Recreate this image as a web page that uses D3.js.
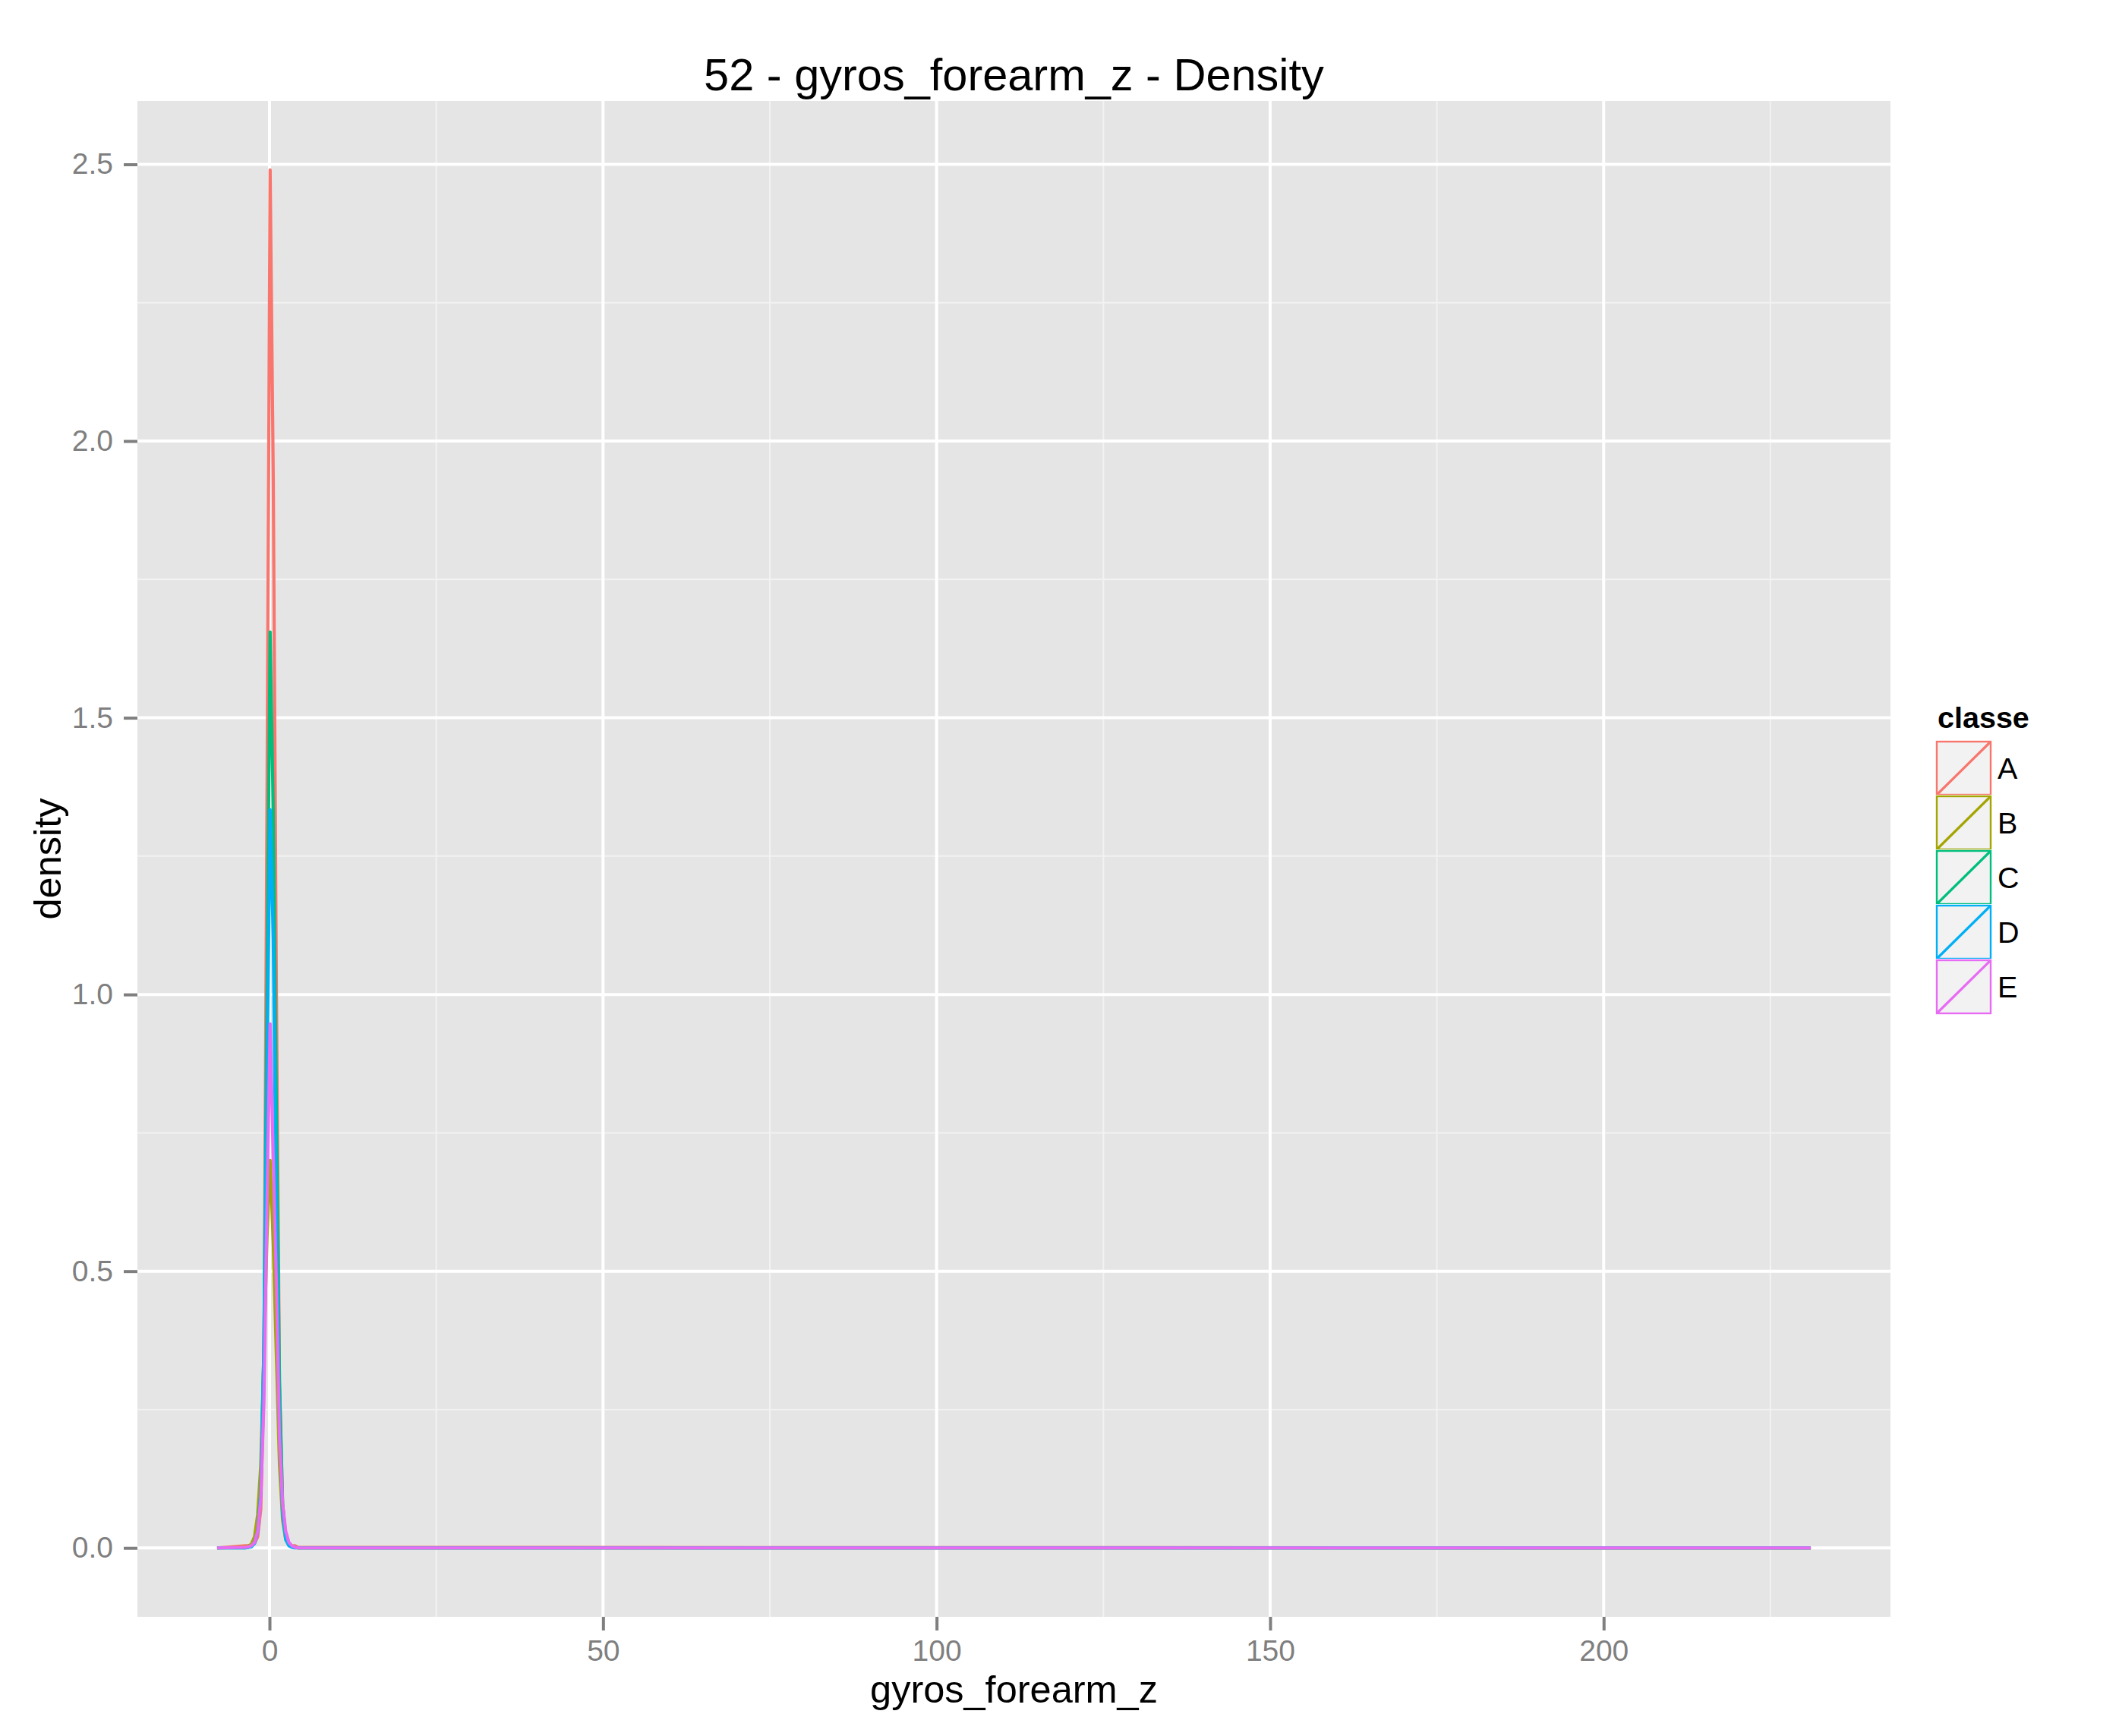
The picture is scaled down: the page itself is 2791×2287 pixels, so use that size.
<!DOCTYPE html>
<html>
<head>
<meta charset="utf-8">
<script src="https://cdn.jsdelivr.net/npm/d3@7"></script>
<style>
  body { margin: 0; background: #fff; }
  text { font-family: Arial, "Liberation Sans", sans-serif; }
</style>
</head>
<body>
<script>
// density estimates per class (grid of x values)
var gridX = [-7.86, -3.65, -3.18, -2.72, -2.25, -1.78, -1.31, -0.85, -0.38, 0.09, 0.56, 1.02, 1.49, 1.96, 2.43, 2.90, 3.36, 3.83, 4.30, 231.05];
var densA = [0, 0.004, 0.004, 0.005, 0.008, 0.02, 0.07, 0.30, 1.35, 2.49, 1.93, 1.02, 0.30, 0.08, 0.02, 0.006, 0.004, 0.004, 0.001, 0];
var densB = [0, 0.001, 0.003, 0.007, 0.02, 0.06, 0.15, 0.35, 0.56, 0.70, 0.55, 0.35, 0.15, 0.05, 0.015, 0.005, 0.002, 0.001, 0, 0];
var densC = [0, 0, 0.001, 0.003, 0.01, 0.03, 0.10, 0.36, 1.00, 1.655, 1.33, 0.80, 0.30, 0.08, 0.02, 0.006, 0.002, 0.001, 0, 0];
var densD = [0, 0, 0.001, 0.002, 0.008, 0.03, 0.10, 0.36, 0.85, 1.334, 1.10, 0.60, 0.22, 0.06, 0.015, 0.004, 0.001, 0, 0, 0];
var densE = [0, 0.001, 0.002, 0.004, 0.01, 0.03, 0.09, 0.26, 0.62, 0.947, 0.70, 0.48, 0.20, 0.08, 0.03, 0.01, 0.004, 0.001, 0, 0];

var classes = ["A", "B", "C", "D", "E"];
var colors = ["#F8766D", "#A3A500", "#00BF7D", "#00B0F6", "#E76BF3"];

var xBreaks = [0, 50, 100, 150, 200];
var xMinor = [25, 75, 125, 175, 225];
var yBreaks = [0, 0.5, 1.0, 1.5, 2.0, 2.5];
var yMinor = [0.25, 0.75, 1.25, 1.75, 2.25];
var yLabels = ["0.0", "0.5", "1.0", "1.5", "2.0", "2.5"];

var W = 2791, H = 2287;
var panel = { left: 181, right: 2490, top: 133, bottom: 2130 };

var series = [densA, densB, densC, densD, densE].map((v, i) => ({
    name: classes[i],
    color: colors[i],
    values: gridX.map((x, j) => ({ x: x, y: v[j] }))
}));

const svg = d3.select('body').append('svg')
    .attr('width', W)
    .attr('height', H);

// ggplot style 5% expansion
var xr = d3.extent(gridX);
var xpad = (xr[1] - xr[0]) * 0.05;
var ymax = d3.max(series, s => d3.max(s.values, d => d.y));
var ypad = ymax * 0.05;

const xScale = d3.scaleLinear()
    .domain([xr[0] - xpad, xr[1] + xpad])
    .range([panel.left, panel.right]);
const yScale = d3.scaleLinear()
    .domain([0 - ypad, ymax + ypad])
    .range([panel.bottom, panel.top]);

// panel background
svg.append('rect')
    .attr('x', panel.left).attr('y', panel.top)
    .attr('width', panel.right - panel.left)
    .attr('height', panel.bottom - panel.top)
    .attr('fill', '#E5E5E5');

// grid lines
var grid = svg.append('g');
grid.selectAll('.xminor').data(xMinor).enter().append('line')
    .attr('x1', d => xScale(d)).attr('x2', d => xScale(d))
    .attr('y1', panel.top).attr('y2', panel.bottom)
    .attr('stroke', '#F2F2F2').attr('stroke-width', 2);
grid.selectAll('.yminor').data(yMinor).enter().append('line')
    .attr('y1', d => yScale(d)).attr('y2', d => yScale(d))
    .attr('x1', panel.left).attr('x2', panel.right)
    .attr('stroke', '#F2F2F2').attr('stroke-width', 2);
grid.selectAll('.xmajor').data(xBreaks).enter().append('line')
    .attr('x1', d => xScale(d)).attr('x2', d => xScale(d))
    .attr('y1', panel.top).attr('y2', panel.bottom)
    .attr('stroke', '#FFFFFF').attr('stroke-width', 4);
grid.selectAll('.ymajor').data(yBreaks).enter().append('line')
    .attr('y1', d => yScale(d)).attr('y2', d => yScale(d))
    .attr('x1', panel.left).attr('x2', panel.right)
    .attr('stroke', '#FFFFFF').attr('stroke-width', 4);

// density lines
const line = d3.line()
    .x(d => xScale(d.x))
    .y(d => yScale(d.y));

svg.append('g').selectAll('path')
    .data(series).enter().append('path')
    .attr('d', d => line(d.values))
    .attr('fill', 'none')
    .attr('stroke', d => d.color)
    .attr('stroke-width', 4.2)
    .attr('stroke-linejoin', 'round');

// axes
const xAxis = d3.axisBottom(xScale)
    .tickValues(xBreaks)
    .tickSize(18)
    .tickPadding(12)
    .tickFormat(d3.format('d'));
const yAxis = d3.axisLeft(yScale)
    .tickValues(yBreaks)
    .tickSize(18)
    .tickPadding(14)
    .tickFormat((d, i) => yLabels[i]);

const xAxisG = svg.append('g')
    .attr('transform', `translate(0,${panel.bottom})`)
    .call(xAxis);
const yAxisG = svg.append('g')
    .attr('transform', `translate(${panel.left},0)`)
    .call(yAxis);

[xAxisG, yAxisG].forEach(g => {
    g.select('.domain').remove();
    g.selectAll('.tick line').attr('stroke', '#7F7F7F').attr('stroke-width', 4);
    g.selectAll('.tick text')
        .attr('fill', '#7F7F7F')
        .attr('font-size', 39)
        .attr('font-family', 'Arial, "Liberation Sans", sans-serif');
});
xAxisG.selectAll('.tick text').attr('dy', '0.71em');

// titles
svg.append('text')
    .attr('x', (panel.left + panel.right) / 2)
    .attr('y', 119)
    .attr('text-anchor', 'middle')
    .attr('font-size', 59.5)
    .text('52 - gyros_forearm_z - Density');

svg.append('text')
    .attr('x', (panel.left + panel.right) / 2)
    .attr('y', 2243)
    .attr('text-anchor', 'middle')
    .attr('font-size', 50.5)
    .text('gyros_forearm_z');

svg.append('text')
    .attr('transform', `translate(80,${(panel.top + panel.bottom) / 2}) rotate(-90)`)
    .attr('text-anchor', 'middle')
    .attr('font-size', 50.5)
    .text('density');

// legend
var key = 72, legX = 2550, legY = 976;
var leg = svg.append('g');
leg.append('text')
    .attr('x', legX + 2)
    .attr('y', 959)
    .attr('font-size', 39.5)
    .attr('font-weight', 'bold')
    .text('classe');

var items = leg.selectAll('.item').data(series).enter().append('g')
    .attr('transform', (d, i) => `translate(${legX},${legY + i * key})`);
items.append('rect')
    .attr('width', key + 1).attr('height', key)
    .attr('fill', '#F2F2F2')
    .attr('stroke', '#FFFFFF').attr('stroke-width', 2);
items.append('rect')
    .attr('x', 1).attr('y', 1)
    .attr('width', key - 1).attr('height', key - 2)
    .attr('fill', 'none')
    .attr('stroke', d => d.color).attr('stroke-width', 2.4);
items.append('line')
    .attr('x1', 1).attr('y1', key - 1)
    .attr('x2', key).attr('y2', 1)
    .attr('stroke', d => d.color).attr('stroke-width', 3.2);
items.append('text')
    .attr('x', key + 9)
    .attr('y', key / 2)
    .attr('dy', '0.36em')
    .attr('font-size', 39.5)
    .text(d => d.name);
</script>
</body>
</html>
